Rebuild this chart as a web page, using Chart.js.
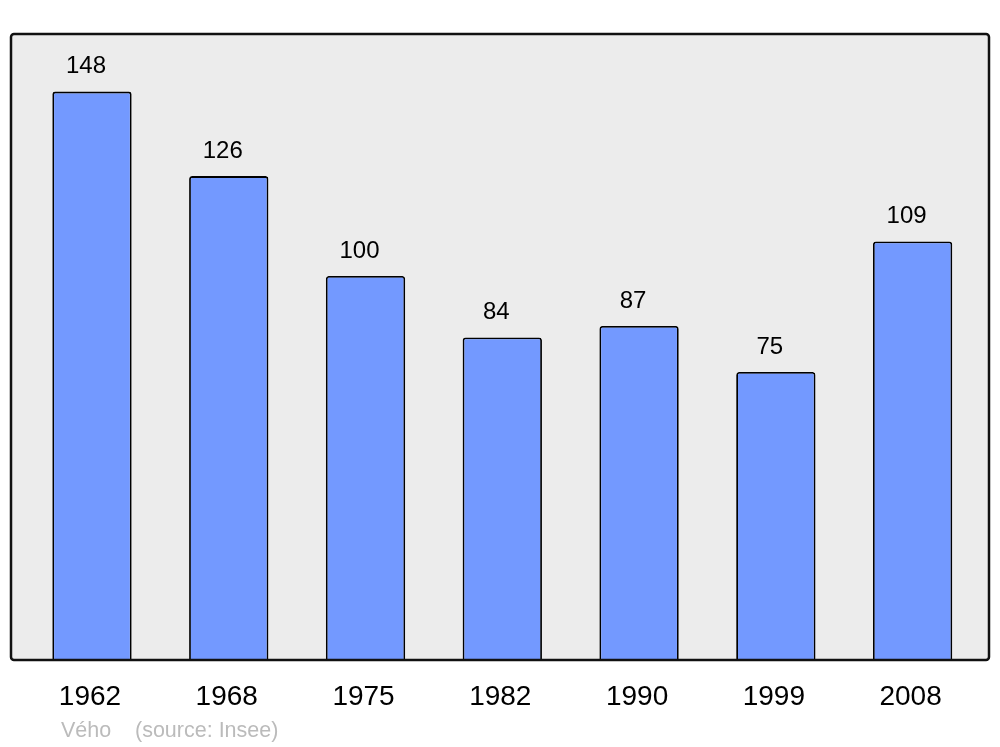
<!DOCTYPE html>
<html>
<head>
<meta charset="utf-8">
<script src="https://cdn.jsdelivr.net/npm/chart.js@4/dist/chart.umd.min.js"></script>
<style>
  html, body { margin: 0; padding: 0; background: #ffffff; }
  #wrap { width: 1000px; height: 747px; position: relative; }
</style>
</head>
<body>
<div id="wrap"><canvas id="c" width="1000" height="747"></canvas></div>
<script>
const years = ["1962", "1968", "1975", "1982", "1990", "1999", "2008"];
const population = [148, 126, 100, 84, 87, 75, 109];
const sourceName = "Vého";
const sourceNote = "(source: Insee)";

const FONT = "'Liberation Sans', Arial, sans-serif";

const framePlugin = {
  id: 'frame',
  beforeDatasetsDraw(chart) {
    const { ctx, chartArea: a } = chart;
    ctx.save();
    ctx.fillStyle = '#ececec';
    ctx.beginPath();
    ctx.roundRect(11, a.top, 978, a.bottom - a.top, 3);
    ctx.fill();
    ctx.restore();
  },
  afterDatasetsDraw(chart) {
    const { ctx, chartArea: a } = chart;
    ctx.save();
    ctx.strokeStyle = '#111111';
    ctx.lineWidth = 2.5;
    ctx.beginPath();
    ctx.roundRect(11, a.top, 978, a.bottom - a.top, 3);
    ctx.stroke();
    // value labels
    const meta = chart.getDatasetMeta(0);
    ctx.fillStyle = '#000000';
    ctx.font = "24px " + FONT;
    ctx.textAlign = 'center';
    ctx.textBaseline = 'middle';
    meta.data.forEach((bar, i) => {
      ctx.fillText(String(population[i]), bar.x - 6, bar.y - 25);
    });
    // source line
    ctx.fillStyle = '#bbbbbb';
    ctx.font = "21.5px " + FONT;
    ctx.textAlign = 'left';
    ctx.fillText(sourceName, 61, 731);
    ctx.fillText(sourceNote, 135, 731);
    ctx.restore();
  }
};

new Chart(document.getElementById('c'), {
  type: 'bar',
  data: {
    labels: years,
    datasets: [{
      data: population,
      backgroundColor: '#7399ff',
      borderColor: '#000000',
      borderWidth: 1.8,
      borderRadius: 3,
      borderSkipped: 'bottom',
      barPercentage: 0.58,
      categoryPercentage: 1.0
    }]
  },
  options: {
    responsive: false,
    animation: false,
    devicePixelRatio: 1,
    layout: { padding: { left: 23.6, right: 19, top: 34, bottom: 0 } },
    plugins: { legend: { display: false }, tooltip: { enabled: false } },
    scales: {
      x: {
        grid: { display: false, drawTicks: false },
        border: { display: false },
        ticks: { color: '#000000', font: { family: FONT, size: 28 }, padding: 20, maxRotation: 0, labelOffset: -2 },
        afterFit(scale) { scale.height = 87; }
      },
      y: {
        display: false,
        min: 0,
        max: 163,
        grid: { display: false }
      }
    }
  },
  plugins: [framePlugin]
});
</script>
</body>
</html>
